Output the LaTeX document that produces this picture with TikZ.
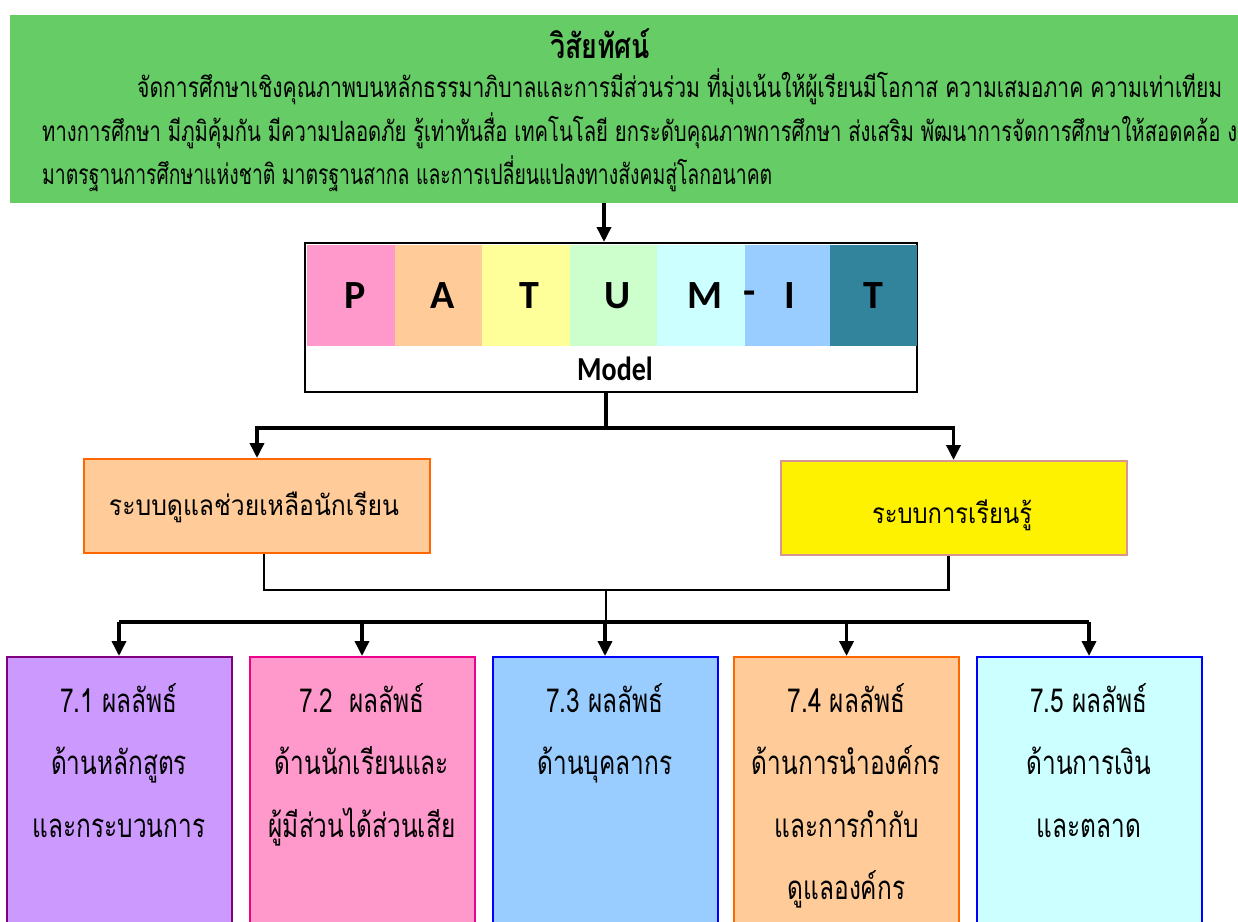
\documentclass[tikz,border=0pt]{standalone}
\usepackage{fontspec}
\usepackage{graphicx}
\newfontfamily\thai[Script=Thai]{Loma}
\newfontfamily\calb{Carlito}
\usetikzlibrary{arrows.meta}
\definecolor{vgreen}{HTML}{66CC66}
\definecolor{cP}{HTML}{FF99CC}
\definecolor{cA}{HTML}{FFCC99}
\definecolor{cT}{HTML}{FFFF99}
\definecolor{cU}{HTML}{CCFFCC}
\definecolor{cM}{HTML}{CCFFFF}
\definecolor{cI}{HTML}{99CCFF}
\definecolor{cTT}{HTML}{31849B}
\definecolor{orgline}{HTML}{FF6600}
\definecolor{pinkline}{HTML}{D99594}
\definecolor{purpline}{HTML}{800080}
\definecolor{lilac}{HTML}{CC99FF}
\newcommand{\fitw}[2]{\resizebox{#1}{\height}{#2}}
\newcommand{\sq}[1]{\scalebox{0.74}[1]{#1}}
\begin{document}
\begin{tikzpicture}[x=1pt,y=-1pt,
  strip/.style={minimum width=87.5pt,minimum height=101pt,inner sep=0pt,
    font=\calb\bfseries\fontsize{40}{42}\selectfont},
  conn/.style={line width=3.5pt},
  thin conn/.style={line width=2.5pt},
  arr/.style={line width=3.5pt,-{Triangle[width=14pt,length=15pt]}},
  midbox/.style={minimum width=346pt,minimum height=94pt,inner sep=0pt,line width=2pt},
  outbox/.style={minimum width=225pt,minimum height=280pt,inner sep=0pt,line width=2pt},
  outtext/.style={anchor=base,align=center,inner sep=0pt,
    font=\thai\fontsize{33}{62.5}\selectfont},
  bodytext/.style={anchor=base west,inner sep=0pt,font=\thai\fontsize{28}{30}\selectfont}
]
\useasboundingbox (0,0) rectangle (1238,921);
% vision
\node[fill=vgreen,minimum width=1228pt,minimum height=188pt,inner sep=0pt] (vision) at (624,109) {};
\node[inner sep=0pt,anchor=base,font=\thai\bfseries\fontsize{34}{36}\selectfont] (title) at (600,58) {\fitw{100pt}{วิสัยทัศน์}};
\node[bodytext] (l1) at (137,97) {\fitw{1085pt}{จัดการศึกษาเชิงคุณภาพบนหลักธรรมาภิบาลและการมีส่วนร่วม ที่มุ่งเน้นให้ผู้เรียนมีโอกาส ความเสมอภาค ความเท่าเทียม}};
\node[bodytext] (l2) at (42,141) {\fitw{1195pt}{ทางการศึกษา มีภูมิคุ้มกัน มีความปลอดภัย รู้เท่าทันสื่อ เทคโนโลยี ยกระดับคุณภาพการศึกษา ส่งเสริม พัฒนาการจัดการศึกษาให้สอดคล้อ ง}};
\node[bodytext] (l3) at (42,184) {\fitw{730pt}{มาตรฐานการศึกษาแห่งชาติ มาตรฐานสากล และการเปลี่ยนแปลงทางสังคมสู่โลกอนาคต}};
% PATUMIT model
\node[draw=black,line width=2.5pt,minimum width=612pt,minimum height=149pt,inner sep=0pt] (pat) at (611,317.5) {};
\node[strip,fill=cP] (sP) at (350.75,295.5) {\hspace{8pt}P};
\node[strip,fill=cA] (sA) at (438.25,295.5) {\hspace{8pt}A};
\node[strip,fill=cT] (sT) at (525.75,295.5) {\hspace{8pt}T};
\node[strip,fill=cU] (sU) at (613.25,295.5) {\hspace{8pt}U};
\node[strip,fill=cM] (sM) at (700.75,295.5) {\hspace{8pt}M};
\node[strip,fill=cI] (sI) at (788.25,295.5) {\hspace{4pt}I};
\node[strip,fill=cTT,minimum width=87pt] (sT2) at (873.5,295.5) {T};
\node[inner sep=0pt,font=\calb\bfseries\fontsize{40}{42}\selectfont] (hyph) at (750,298) {-};
\node[inner sep=0pt,font=\calb\bfseries\fontsize{28}{30}\selectfont] (model) at (615,369) {\scalebox{1}[1.2]{Model}};
% middle boxes
\node[midbox,fill=cA,draw=orgline] (care) at (257,506) {};
\node[inner sep=0pt,anchor=base,font=\thai\fontsize{28}{30}\selectfont] (caretext) at (254,515) {\fitw{290pt}{ระบบดูแลช่วยเหลือนักเรียน}};
\node[midbox,fill=yellow,draw=pinkline] (learn) at (953.5,508) {};
\node[inner sep=0pt,anchor=base,font=\thai\fontsize{28}{30}\selectfont] (learntext) at (952,523) {\fitw{160pt}{ระบบการเรียนรู้}};
% connectors top
\draw[arr] (604,203) coordinate (vout) -- (604,242) coordinate (patin);
\draw[conn] (606,393) coordinate (patout) -- (606,428) coordinate (j1);
\draw[arr] (j1) -| (care.north);
\draw[arr] (j1) -| (learn.north);
% output boxes
\node[outbox,fill=lilac,draw=purpline] (b1) at (119,797) {};
\node[outbox,fill=cP,draw=magenta] (b2) at (362,797) {};
\node[outbox,fill=cI,draw=blue] (b3) at (605,797) {};
\node[outbox,fill=cA,draw=orgline] (b4) at (846.5,797) {};
\node[outbox,fill=cM,draw=blue] (b5) at (1089,797) {};
\node[outtext] (t1) at (119,837) {\sq{7.1 ผลลัพธ์}\\\sq{ด้านหลักสูตร}\\\sq{และกระบวนการ}};
\node[outtext] (t2) at (362,837) {\sq{7.2\ \ ผลลัพธ์}\\\sq{ด้านนักเรียนและ}\\\sq{ผู้มีส่วนได้ส่วนเสีย}};
\node[outtext] (t3) at (605,774.5) {\sq{7.3 ผลลัพธ์}\\\sq{ด้านบุคลากร}};
\node[outtext] (t4) at (846.5,899.5) {\sq{7.4 ผลลัพธ์}\\\sq{ด้านการนำองค์กร}\\\sq{และการกำกับ}\\\sq{ดูแลองค์กร}};
\node[outtext] (t5) at (1089,837) {\sq{7.5 ผลลัพธ์}\\\sq{ด้านการเงิน}\\\sq{และตลาด}};
% connectors bottom
\draw[thin conn] ([xshift=7pt]care.south) |- (606,590) coordinate (j2) -| ([xshift=-5pt]learn.south);
\draw[thin conn] (j2) -- (606,622) coordinate (j3);
\draw[conn] (b1.north |- j3) -- (b5.north |- j3);
\foreach \b in {b1,b2,b3,b4,b5} \draw[arr] (\b.north |- j3) -- (\b.north);
\end{tikzpicture}
\end{document}
